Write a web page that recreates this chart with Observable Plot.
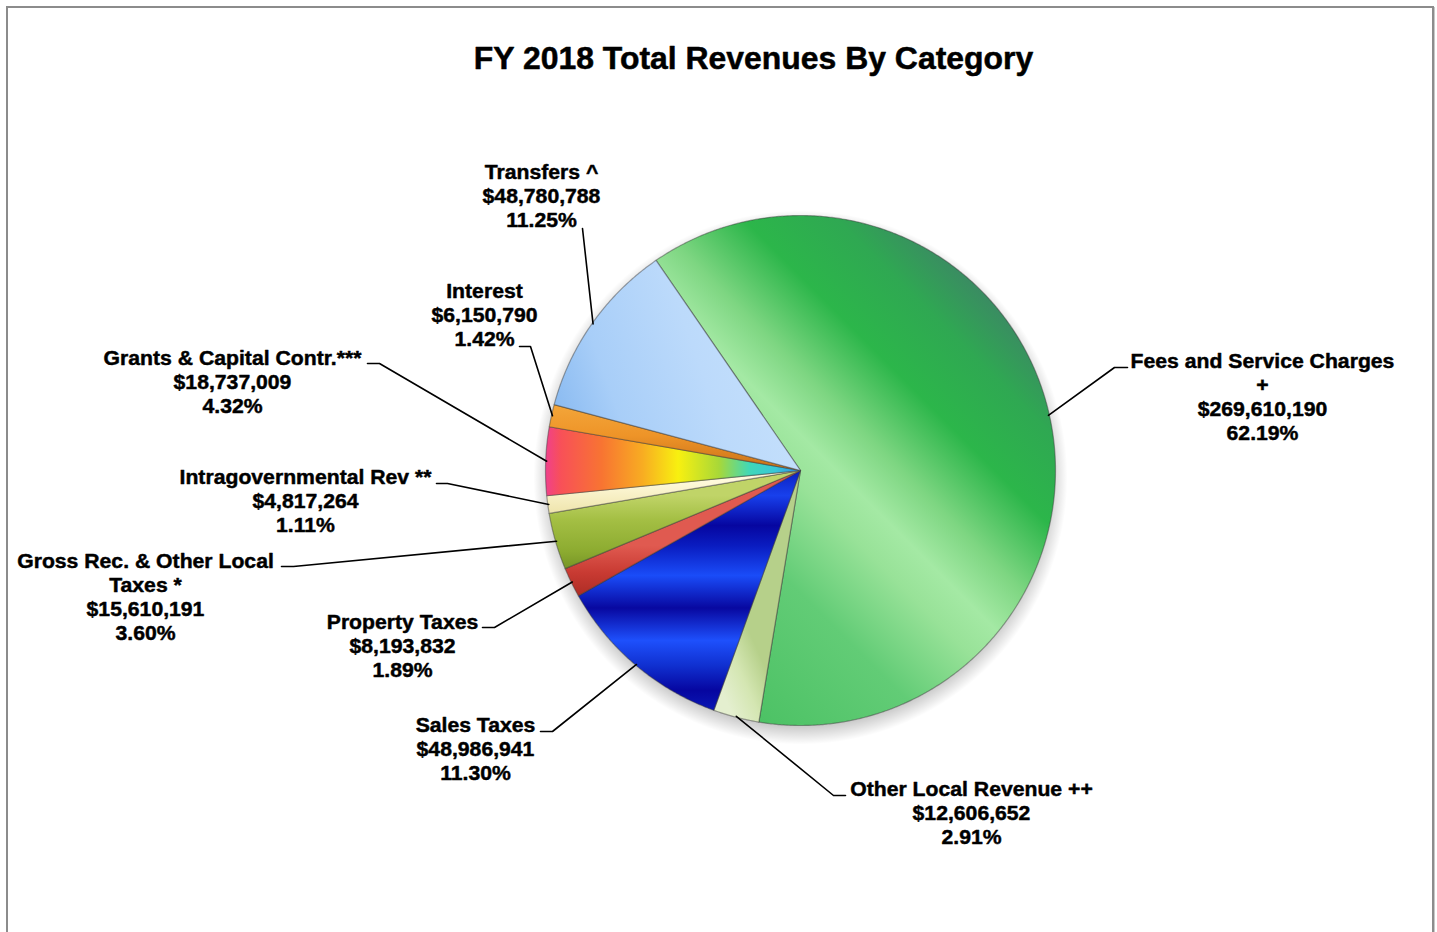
<!DOCTYPE html>
<html>
<head>
<meta charset="utf-8">
<script src="https://cdn.jsdelivr.net/npm/d3@7"></script>
<script src="https://cdn.jsdelivr.net/npm/@observablehq/plot@0.6"></script>
<style>
  html, body { margin: 0; padding: 0; background: #fff; }
  #wrap { position: relative; width: 1437px; height: 932px; overflow: hidden; background: #fff; }
  #border { position: absolute; left: 6px; top: 6px; width: 1424px; height: 1000px; border: 2px solid #8c8c8c; box-shadow: 1px 1px 0 #c8c8c8; }
  #chart { position: absolute; left: 0; top: 0; }
</style>
</head>
<body>
<div id="wrap"><div id="border"></div><div id="chart"></div></div>
<script>
// ---- data ----
const categories = [
  "Fees and Service Charges\n+",
  "Other Local Revenue ++",
  "Sales Taxes",
  "Property Taxes",
  "Gross Rec. & Other Local\nTaxes *",
  "Intragovernmental Rev **",
  "Grants & Capital Contr.***",
  "Interest",
  "Transfers ^"
];
const amounts = [269610190, 12606652, 48986941, 8193832, 15610191, 4817264, 18737009, 6150790, 48780788];
const percentLabels = ["62.19%", "2.91%", "11.30%", "1.89%", "3.60%", "1.11%", "4.32%", "1.42%", "11.25%"];
const titleText = "FY 2018 Total Revenues By Category";

// ---- layout (pixels) ----
const pie = {cx: 800, cy: 470, r: 255, startDeg: -34.5};
const labelX = [1262, 971, 475, 402, 145, 305, 232, 484, 541];
const labelY = [396, 812, 748, 645, 596, 500, 381, 314, 195];
const stubOuter = [[1127,367],[845,795],[540,731],[482,627],[281,566],[436,483],[367,363],[519,346],[582,228]];
const stubInner = [[1114,367],[833,795],[552,731],[494,627],[293,566],[447,483],[379,363],[530,346],[582,228]];
const W = 1437, H = 932;
const LABEL_SIZE = 20, TITLE_SIZE = 31;

const fmt = d3.format("$,");
const toRad = Math.PI / 180;
const arcs = d3.pie().sort(null)
  .startAngle(pie.startDeg * toRad)
  .endAngle(pie.startDeg * toRad + 2 * Math.PI)(amounts);

const pt = (a, r, cx = pie.cx, cy = pie.cy) => ({x: cx + r * Math.sin(a), y: cy - r * Math.cos(a)});

const slicePolys = arcs.map((a, i) => {
  const n = Math.max(2, Math.ceil((a.endAngle - a.startAngle) / (0.4 * toRad)));
  const pts = [{x: pie.cx, y: pie.cy}];
  for (let k = 0; k <= n; k++) pts.push(pt(a.startAngle + (a.endAngle - a.startAngle) * k / n, pie.r));
  return pts;
});

const shadowPoly = d3.range(0, 361, 1).map(d => pt(d * toRad, pie.r + 12, pie.cx, pie.cy + 7));

const labels = arcs.map((a, i) => ({
  x: labelX[i], y: labelY[i],
  text: categories[i] + "\n" + fmt(amounts[i]) + "\n" + percentLabels[i]
}));

const leaders = arcs.flatMap((a, i) => {
  const mid = (a.startAngle + a.endAngle) / 2;
  const e = pt(mid, pie.r - 1);
  return [
    {id: i, x: stubOuter[i][0], y: stubOuter[i][1]},
    {id: i, x: stubInner[i][0], y: stubInner[i][1]},
    {id: i, x: e.x, y: e.y}
  ];
});

const font = "'Liberation Sans', Arial, Helvetica, sans-serif";

const marks = [
  Plot.line(shadowPoly, {x: "x", y: "y", curve: "linear-closed", fill: "url(#shadowGrad)", stroke: "none"}),
  ...slicePolys.map((poly, i) => Plot.line(poly, {
    x: "x", y: "y", curve: "linear-closed",
    fill: `url(#g${i})`, stroke: "#3a3a3a", strokeOpacity: 0.45, strokeWidth: 1.2
  })),
  Plot.line(leaders, {x: "x", y: "y", z: "id", stroke: "#000", strokeWidth: 1.6}),
  Plot.text(labels, {
    x: "x", y: "y", text: "text", textAnchor: "middle", lineAnchor: "middle",
    fontSize: LABEL_SIZE, lineHeight: 24 / LABEL_SIZE, fontWeight: "bold", fontFamily: font,
    fill: "#000", stroke: "#000", strokeWidth: 0.45
  }),
  Plot.text([{x: 753, y: 59, text: titleText}], {
    x: "x", y: "y", text: "text", textAnchor: "middle", lineAnchor: "middle",
    fontSize: TITLE_SIZE, fontWeight: "bold", fontFamily: font,
    fill: "#000", stroke: "#000", strokeWidth: 0.5
  })
];

const svg = Plot.plot({
  width: W, height: H,
  marginTop: 0, marginRight: 0, marginBottom: 0, marginLeft: 0,
  x: {domain: [0, W], range: [0, W], axis: null},
  y: {domain: [0, H], range: [0, H], axis: null},
  style: {background: "transparent"},
  marks
});

// gradients
const gradDefs = [
  {id: "g0", x1: 620, y1: 650, x2: 980, y2: 290, stops: [[0,"#44be5e"],[0.33,"#62cc76"],[0.48,"#98e298"],[0.55,"#a4e9a4"],[0.64,"#7ed682"],[0.77,"#2cb64a"],[0.9,"#2fa852"],[1,"#3a8c62"]]},
  {id: "g1", x1: 730, y1: 710, x2: 775, y2: 690, stops: [[0,"#e4efcf"],[0.5,"#d4e6b2"],[1,"#b6d08a"]]},
  {id: "g2", x1: 0, y1: 470, x2: 0, y2: 720, stops: [[0,"#0c20c0"],[0.1,"#1840ec"],[0.22,"#0606a0"],[0.3,"#0a1cc0"],[0.42,"#1a4cf8"],[0.55,"#0808a0"],[0.68,"#1e50fc"],[0.78,"#1030d0"],[0.88,"#0606a0"],[1,"#0c20c0"]]},
  {id: "g3", x1: 0, y1: 545, x2: 0, y2: 600, stops: [[0,"#e05a50"],[0.5,"#c83a32"],[1,"#a82a22"]]},
  {id: "g4", x1: 0, y1: 495, x2: 0, y2: 575, stops: [[0,"#c0d468"],[0.3,"#a4bf44"],[0.7,"#8cab30"],[1,"#6e8c22"]]},
  {id: "g5", x1: 0, y1: 480, x2: 0, y2: 510, stops: [[0,"#fffadc"],[1,"#f0e6b0"]]},
  {id: "g6", x1: 545, y1: 0, x2: 800, y2: 0, stops: [[0,"#f0408c"],[0.06,"#f85058"],[0.22,"#f87432"],[0.38,"#f8ac22"],[0.52,"#f8f010"],[0.68,"#a8d838"],[0.8,"#40d8b8"],[0.9,"#38c8d8"],[1,"#3088e0"]]},
  {id: "g7", x1: 0, y1: 400, x2: 0, y2: 470, stops: [[0,"#f4a83c"],[0.5,"#ee9428"],[1,"#c87018"]]},
  {id: "g8", x1: 550, y1: 420, x2: 800, y2: 330, stops: [[0,"#86b8f0"],[0.25,"#a8cef8"],[0.6,"#bcdafb"],[1,"#c8e2fc"]]}
];
const defs = d3.select(svg).insert("defs", ":first-child");
for (const g of gradDefs) {
  const el = defs.append("linearGradient").attr("id", g.id).attr("gradientUnits", "userSpaceOnUse")
    .attr("x1", g.x1).attr("y1", g.y1).attr("x2", g.x2).attr("y2", g.y2);
  for (const [o, c] of g.stops) el.append("stop").attr("offset", o).attr("stop-color", c);
}
const sg = defs.append("radialGradient").attr("id", "shadowGrad");
[[0, 0.35], [0.9, 0.3], [0.96, 0.12], [1, 0]].forEach(([o, op]) =>
  sg.append("stop").attr("offset", o).attr("stop-color", "#000").attr("stop-opacity", op));

// slight horizontal stretch of text to match the reference's proportions
d3.select(svg).selectAll(`g[font-size="${LABEL_SIZE}"] text`).each(function() {
  const t = this.getAttribute("transform") || "";
  this.setAttribute("transform", t + " scale(1.06,1)");
});
d3.select(svg).selectAll(`g[font-size="${TITLE_SIZE}"] text`).each(function() {
  const t = this.getAttribute("transform") || "";
  this.setAttribute("transform", t + " scale(1.03,1)");
});

document.getElementById("chart").appendChild(svg);
</script>
</body>
</html>
